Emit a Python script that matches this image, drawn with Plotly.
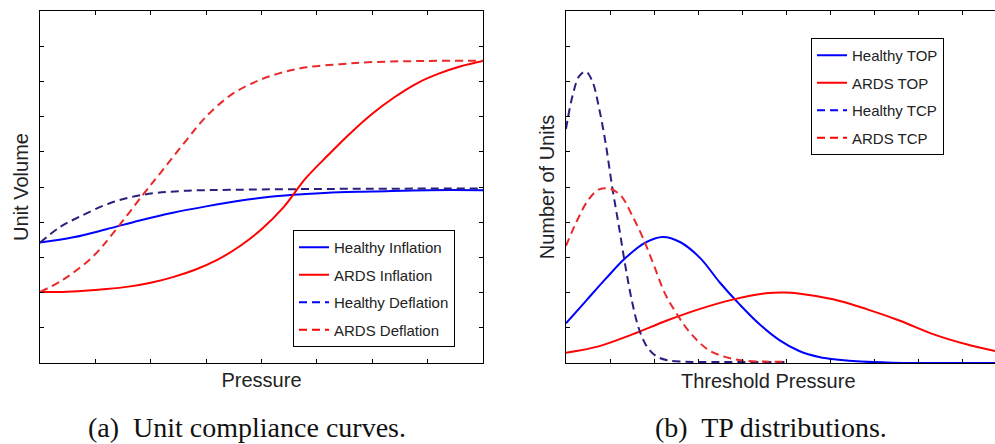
import plotly.graph_objects as go

# ---- Panel (a): unit compliance curves ----
hi_x = [0, 0.6, 1.2, 1.8, 2.4, 3.0, 3.6, 4.2, 4.8, 5.4, 6.0, 7.0, 8.0]
hi_y = [3.42, 3.57, 3.8, 4.05, 4.27, 4.45, 4.61, 4.73, 4.8, 4.85, 4.87, 4.91, 4.91]

hd_x = [0, 0.35, 0.72, 1.26, 1.86, 2.59, 3.49, 4.69, 5.9, 8.0]
hd_y = [3.42, 3.85, 4.16, 4.54, 4.78, 4.89, 4.92, 4.94, 4.95, 4.96]

ai_x = [0, 0.4, 0.8, 1.2, 1.6, 2.0, 2.4, 2.8, 3.2, 3.6, 4.0, 4.4, 4.8, 5.2, 5.6, 6.0, 6.4, 6.8, 7.2, 7.6, 8.0]
ai_y = [2.02, 2.02, 2.05, 2.1, 2.17, 2.28, 2.44, 2.65, 2.93, 3.31, 3.8, 4.43, 5.25, 5.9, 6.52, 7.08, 7.55, 7.94, 8.22, 8.43, 8.58]

ad_x = [0, 0.42, 0.96, 1.32, 1.86, 2.17, 2.65, 3.0, 3.49, 3.97, 4.39, 4.81, 5.42, 6.02, 6.92, 8.0]
ad_y = [2.02, 2.37, 3.03, 3.69, 4.78, 5.39, 6.34, 7.0, 7.66, 8.04, 8.26, 8.4, 8.49, 8.55, 8.58, 8.59]

# ---- Panel (b): TP distributions ----
htop_x = [0, 0.45, 0.9, 1.35, 1.8, 2.2, 2.6, 3.05, 3.5, 3.95, 4.4, 4.85, 5.3, 5.75, 6.2, 6.7, 7.4, 8.5, 9.75]
htop_y = [1.13, 1.76, 2.39, 2.98, 3.42, 3.58, 3.43, 2.98, 2.28, 1.66, 1.1, 0.65, 0.34, 0.17, 0.09, 0.04, 0.01, 0.0, 0.0]

atop_x = [0, 0.76, 1.52, 2.28, 3.03, 3.79, 4.55, 4.95, 5.32, 6.07, 6.83, 7.59, 8.34, 9.1, 9.75]
atop_y = [0.29, 0.48, 0.82, 1.2, 1.53, 1.8, 1.98, 2.0, 1.97, 1.81, 1.53, 1.2, 0.82, 0.53, 0.34]

htcp_x = [0, 0.15, 0.3, 0.45, 0.6, 0.75, 0.9, 1.05, 1.2, 1.35, 1.5, 1.65, 1.8, 1.95, 2.1, 2.3, 2.6, 3.0, 5.0]
htcp_y = [6.65, 7.6, 8.15, 8.28, 8.0, 7.25, 6.25, 5.0, 3.9, 2.75, 1.75, 1.0, 0.55, 0.3, 0.16, 0.08, 0.04, 0.03, 0.03]

atcp_x = [0, 0.25, 0.5, 0.75, 1.0, 1.25, 1.5, 1.75, 2.0, 2.25, 2.5, 2.75, 3.0, 3.25, 3.5, 3.75, 4.0, 4.5, 5.0]
atcp_y = [3.33, 4.04, 4.62, 4.93, 4.95, 4.75, 4.2, 3.55, 2.77, 1.97, 1.43, 0.97, 0.62, 0.36, 0.22, 0.13, 0.07, 0.04, 0.04]

BLUE = "#0000ff"
RED = "#ff0000"
NAVY = "#2a1f80"
RED_D = "#e82a2a"
DASH = "8px,5px"
LW = 2

fig = go.Figure()

def add(x, y, name, color, dash, xa, ya, legend, legend_color=None):
    fig.add_trace(go.Scatter(x=x, y=y, mode="lines", xaxis=xa, yaxis=ya,
                             line=dict(color=color, width=LW, dash=dash, shape="spline", smoothing=1.0),
                             showlegend=False, hoverinfo="skip"))
    fig.add_trace(go.Scatter(x=[None], y=[None], mode="lines", xaxis=xa, yaxis=ya, name=name,
                             line=dict(color=legend_color or color, width=LW, dash=dash),
                             legend=legend, legendgroup=name, showlegend=True))

add(hi_x, hi_y, "Healthy Inflation", BLUE, "solid", "x", "y", "legend")
add(ai_x, ai_y, "ARDS Inflation", RED, "solid", "x", "y", "legend")
add(hd_x, hd_y, "Healthy Deflation", NAVY, DASH, "x", "y", "legend", BLUE)
add(ad_x, ad_y, "ARDS Deflation", RED_D, DASH, "x", "y", "legend", RED)

add(htop_x, htop_y, "Healthy TOP", BLUE, "solid", "x2", "y2", "legend2")
add(atop_x, atop_y, "ARDS TOP", RED, "solid", "x2", "y2", "legend2")
add(htcp_x, htcp_y, "Healthy TCP", NAVY, DASH, "x2", "y2", "legend2", BLUE)
add(atcp_x, atcp_y, "ARDS TCP", RED_D, DASH, "x2", "y2", "legend2", RED)

W, H = 995, 444
def dx(px): return px / W
def dy(py): return 1 - py / H

ax_font = dict(family="Liberation Sans, Arial, sans-serif", size=20, color="#222222")
common_x = dict(showline=True, linecolor="black", linewidth=1, mirror="ticks",
                ticks="inside", ticklen=4, tickcolor="black", showticklabels=False,
                showgrid=False, zeroline=False, title_font=ax_font, title_standoff=9)
common_y = dict(showline=True, linecolor="black", linewidth=1,
                ticks="inside", ticklen=4, tickcolor="black", showticklabels=False,
                showgrid=False, zeroline=False, title_font=ax_font, title_standoff=5,
                range=[0, 10], tickvals=list(range(0, 11)))

leg_font = dict(family="Liberation Sans, Arial, sans-serif", size=15, color="#222222")

fig.update_layout(
    width=W, height=H, margin=dict(l=0, r=0, t=0, b=0),
    paper_bgcolor="white", plot_bgcolor="white",
    xaxis=dict(common_x, domain=[dx(40), dx(483)], range=[0, 8], tickvals=list(range(0, 9)),
               title_text="Pressure", anchor="y"),
    yaxis=dict(common_y, domain=[dy(363), dy(11)], mirror="ticks", title_text="Unit Volume", anchor="x"),
    xaxis2=dict(common_x, domain=[dx(566), 1.0], range=[0, 9.75], tickvals=list(range(0, 10)),
                anchor="y2"),
    yaxis2=dict(common_y, domain=[dy(363), dy(11)], mirror=False, title_text="Number of Units", anchor="x2"),
    legend=dict(x=dx(293), y=dy(230), xanchor="left", yanchor="top",
                bordercolor="black", borderwidth=1, bgcolor="white",
                font=leg_font, tracegroupgap=5, itemwidth=30),
    legend2=dict(x=dx(811), y=dy(38), xanchor="left", yanchor="top",
                 bordercolor="black", borderwidth=1, bgcolor="white",
                 font=leg_font, tracegroupgap=5, itemwidth=30),
    annotations=[
        dict(text="Threshold Pressure", x=dx(768), y=dy(381), xref="paper", yref="paper",
             showarrow=False, xanchor="center", yanchor="middle", font=ax_font),
        dict(text="(a)  Unit compliance curves.", x=dx(247), y=dy(427), xref="paper", yref="paper",
             showarrow=False, xanchor="center", yanchor="middle",
             font=dict(family="Liberation Serif, serif", size=28, color="#111111")),
        dict(text="(b)  TP distributions.", x=dx(771), y=dy(427), xref="paper", yref="paper",
             showarrow=False, xanchor="center", yanchor="middle",
             font=dict(family="Liberation Serif, serif", size=28, color="#111111")),
    ],
)

fig.write_html("out.html")
